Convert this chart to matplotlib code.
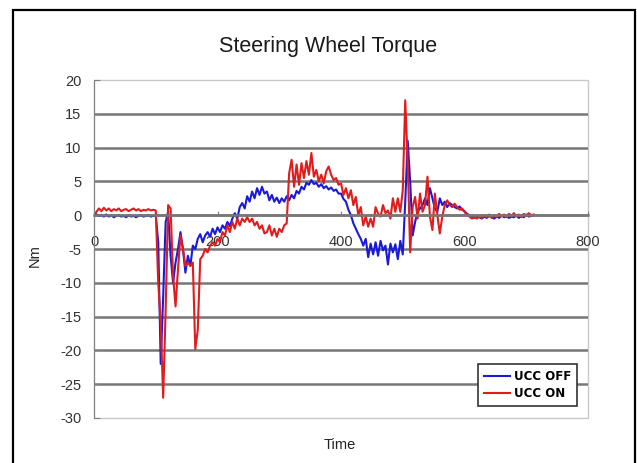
import numpy as np
import matplotlib.pyplot as plt
from matplotlib.patches import Rectangle

plt.rcParams['axes.unicode_minus'] = False

# sampling grid of the logged signal
time = np.arange(0, 716, 4)

# steering wheel torque [Nm], UCC switched off
ucc_off = [
    0.3, 0.1, -0.1, 0.0, -0.2, 0.1, -0.2, 0.0, -0.3, -0.1,      # 0-36
    0.0, -0.2, -0.1, -0.3, 0.0, -0.2, -0.1, -0.3, -0.1, 0.0,    # 40-76
    -0.2, -0.1, 0.0, -0.2, -0.1, -0.1, -4, -22, -12, -1,        # 80-116
    0.5, -6, -10, -7, -5, -2.5, -5, -8.5, -6, -7.5,             # 120-156
    -4.5, -5, -3.5, -2.8, -4, -3, -2.5, -3.2, -2, -2.8,         # 160-196
    -1.8, -2.5, -1.5, -2, -1, -1.6, -0.5, 0.3, -0.5, 1.2,       # 200-236
    1.8, 1, 2.8, 2, 3.5, 2.5, 4, 3, 4.2, 3.2,                   # 240-276
    3.5, 2.2, 3, 2, 2.6, 1.8, 2.5, 2, 2.8, 2.2,                 # 280-316
    3, 2.5, 3.6, 3.2, 4.2, 3.8, 4.8, 4.5, 5.2, 4.6,             # 320-356
    4.8, 4.2, 4.6, 4, 4.3, 3.8, 4.1, 3.6, 3.8, 3.2,             # 360-396
    3.2, 2.4, 2, 0.8, 0, -1.2, -2, -2.8, -3.5, -4.5,            # 400-436
    -3.5, -6.2, -4.2, -5.8, -4, -6, -3.8, -5.2, -4.5, -7.3,     # 440-476
    -4.2, -5.5, -4.3, -6.5, -3.8, -5.8, 2, 11, 5, -3,           # 480-516
    -1, 0.5, 1, 1.5, 2.5, 1.5, 4, 2.5, 1, 0.5,                  # 520-556
    2.5, 1.5, 2, 1.2, 1.8, 1.5, 1.2, 1, 1.3, 0.8,               # 560-596
    0.6, 0.2, 0, -0.2, -0.4, -0.1, -0.3, -0.5, -0.2, -0.4,      # 600-636
    -0.1, -0.3, -0.5, -0.2, -0.4, 0, -0.3, -0.1, -0.4, -0.2,    # 640-676
    -0.3, 0, -0.4, -0.1, -0.3, 0.1, -0.2, -0.1, 0.0,            # 680-712
]

# steering wheel torque [Nm], UCC switched on
ucc_on = [
    0.0, 0.5, 1.0, 0.6, 1.1, 0.7, 1.0, 0.6, 0.9, 0.7,           # 0-36
    1.0, 0.6, 0.8, 0.9, 0.6, 0.8, 1.0, 0.7, 0.9, 0.6,           # 40-76
    0.8, 0.7, 0.9, 0.7, 0.8, 0.7, -10, -16, -27, -14,           # 80-116
    1.5, 1.0, -9, -13.5, -8, -3, -5, -7.5, -7, -7.5,            # 120-156
    -7, -19.8, -17, -6.5, -6, -5, -5.5, -4.5, -4, -4.5,         # 160-196
    -3.5, -4, -2.5, -3, -1.5, -2.5, -1, -2, -0.5, -1.5,         # 200-236
    -0.5, -1, -0.3, -1, -0.5, -1.5, -1, -2, -1.5, -2.7,         # 240-276
    -2.5, -1.5, -3, -2, -3.2, -2, -2.5, -1.5, -1.2, 6.2,        # 280-316
    8.2, 4.2, 7.5, 4.5, 7.7, 5.5, 8, 6, 9.2, 5.7,               # 320-356
    6.7, 5, 6, 4.7, 6.5, 7.2, 6, 5.2, 5.5, 4.5,                 # 360-396
    4.7, 3, 4, 2.5, 3.7, 1.5, 2.7, 0, 1.2, -1.5,                # 400-436
    -0.2, -1.7, -0.5, -1.7, 1.2, 0.2, -0.2, 1.5, 0.3, 0.7,      # 440-476
    -0.5, 2.5, 0.5, 2.5, 0.5, 3.7, 17, 8, -5.5, 1.2,            # 480-516
    2.7, -0.5, 3.2, 0.5, 1.5, 5.7, -0.2, -2.2, 3.2, 0,          # 520-556
    -2.7, -0.2, 1.5, 2.2, 1.5, 1.2, 1.7, 1.2, 0.8, 1,           # 560-596
    0.5, 0, -0.2, -0.5, -0.3, -0.5, -0.2, -0.4, 0, -0.3,        # 600-636
    0.1, -0.4, 0, -0.3, 0.2, -0.2, 0.1, -0.3, 0.2, -0.1,        # 640-676
    0.3, -0.2, 0.1, -0.3, 0.2, -0.1, 0.3, 0, 0.1,               # 680-712
]

x_ticks = [0, 200, 400, 600, 800]
y_ticks = list(range(-30, 21, 5))

fig = plt.figure(figsize=(6.37, 4.63), dpi=100)
ax = fig.add_axes([0.1476, 0.0972, 0.7755, 0.730])

ax.plot(time, ucc_off, color='#1a1ad8', lw=1.5, label='UCC OFF')
ax.plot(time, ucc_on, color='#e01c1c', lw=1.5, label='UCC ON')

ax.set_xlim(0, 800)
ax.set_ylim(-30, 20)
ax.set_xticks(x_ticks)
ax.set_yticks(y_ticks)

# excel style: x axis crosses at zero, light frame round the plot area
ax.patch.set_edgecolor('#c8c8c8')
ax.patch.set_linewidth(1.0)
for side in ['top', 'right']:
    ax.spines[side].set_visible(False)
ax.spines['left'].set_color('#808080')
ax.spines['bottom'].set_position(('data', 0))
ax.spines['bottom'].set_color('#777777')
ax.spines['bottom'].set_linewidth(1.8)

ax.yaxis.grid(True, color='#777777', lw=1.8)
ax.set_axisbelow(True)
grid = ax.get_ygridlines()
grid[0].set_visible(False)
grid[-1].set_visible(False)

ax.tick_params(axis='y', direction='in', length=4, color='#808080', pad=9,
               labelsize=10.5, labelcolor='#333333')
ax.tick_params(axis='x', direction='in', length=3, color='#808080', pad=14,
               labelsize=10.5, labelcolor='#333333')
for lab in ax.get_xticklabels() + ax.get_yticklabels():
    lab.set_family('Liberation Sans')

ax.set_title('Steering Wheel Torque', fontsize=15.5, family='Liberation Sans',
             color='#1a1a1a', x=0.474, pad=20)
ax.set_xlabel('Time', fontsize=10.5, family='Liberation Sans', color='#222222')
ax.set_ylabel('Nm', fontsize=10.5, family='Liberation Sans', color='#222222')
ax.xaxis.set_label_coords(0.498, -0.058)
ax.yaxis.set_label_coords(-0.106, 0.48)

leg = ax.legend(loc='lower right', bbox_to_anchor=(0.989, 0.018), frameon=True,
                fancybox=False, edgecolor='#333333', framealpha=1,
                prop={'weight': 'bold', 'size': 8.5}, handlelength=2.2,
                borderpad=0.5, labelspacing=0.35, handletextpad=0.3)
leg.get_frame().set_linewidth(1.2)

# black border round the whole chart
fig.add_artist(Rectangle((13 / 637, -0.1), 622 / 637, 1.1 - 9.5 / 463,
                         transform=fig.transFigure, fill=False,
                         ec='black', lw=1.6))

fig.savefig('out.png', dpi=100)
